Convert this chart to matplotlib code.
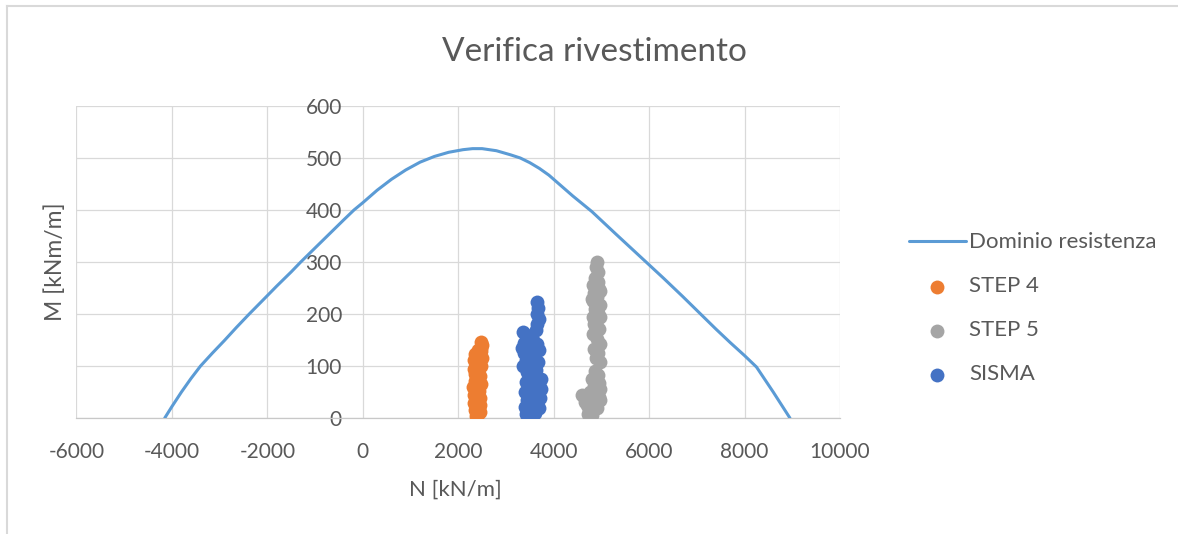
import matplotlib
matplotlib.use("Agg")
import matplotlib.pyplot as plt
from matplotlib.lines import Line2D

plt.rcParams['font.family'] = ['Lato', 'DejaVu Sans']
plt.rcParams['axes.unicode_minus'] = False

# Interaction domain (N, M)
dominio_N = [-4150, -4000, -3800, -3600, -3400, -3150, -2900, -2650, -2380, -2100,
             -1800, -1500, -1300, -1000, -700, -400, -185, 0, 300, 600,
             900, 1200, 1500, 1800, 2100, 2300, 2500, 2800, 3100, 3300,
             3500, 3700, 3900, 4100, 4400, 4800, 5300, 5900, 6300, 6700,
             7100, 7400, 7700, 8000, 8250, 8600, 8950]
dominio_M = [0, 22, 50, 76, 100, 125, 149, 174, 200, 226,
             254, 281, 300, 327, 354, 381, 400, 414, 438, 459,
             477, 492, 503, 511, 516, 518, 518, 514, 506, 500,
             491, 480, 467, 451, 427, 397, 354, 303, 269, 234,
             198, 171, 145, 120, 98, 50, 0]

# STEP 4 actions
step4_N = [2380, 2420, 2350, 2440, 2390, 2460, 2340, 2430, 2400, 2470,
           2360, 2450, 2410, 2330, 2470, 2380, 2320, 2440, 2360, 2480,
           2470, 2490, 2480, 2420, 2450, 2370, 2400, 2440, 2350, 2460,
           2320, 2490, 2310, 2410]
step4_M = [3, 8, 15, 22, 30, 38, 45, 52, 60, 65,
           72, 80, 88, 95, 100, 106, 112, 118, 124, 128,
           135, 141, 147, 70, 12, 58, 92, 110, 85, 25,
           28, 115, 60, 130]

# STEP 5 actions
step5_N = [4900, 4880, 4930, 4860, 4920, 4830, 4950, 4850, 4900, 4820,
           4960, 4870, 4930, 4830, 4900, 4850, 4950, 4830, 4900, 4960,
           4840, 4920, 4880, 4960, 4870, 4930, 4800, 4950, 4850, 4980,
           4760, 4900, 4650, 4700, 4960, 4820, 4700, 4900, 4750, 4720,
           4800, 4950, 4600, 4650, 4980, 4810, 4970]
step5_M = [300, 290, 280, 270, 262, 255, 248, 240, 232, 225,
           218, 210, 202, 195, 188, 180, 172, 162, 152, 142,
           133, 125, 115, 108, 90, 82, 75, 68, 62, 55,
           50, 46, 42, 38, 35, 30, 25, 20, 15, 8,
           5, 40, 45, 30, 245, 228, 195]

# Seismic actions
sisma_N = [3650, 3680, 3640, 3700, 3660, 3620, 3360, 3420, 3500, 3560,
           3380, 3650, 3450, 3700, 3370, 3550, 3420, 3680, 3360, 3500,
           3620, 3440, 3520, 3600, 3420, 3700, 3480, 3740, 3400, 3600,
           3720, 3450, 3550, 3400, 3700, 3480, 3600, 3420, 3530, 3650,
           3470, 3340, 3740]
sisma_M = [224, 212, 200, 190, 180, 170, 165, 160, 155, 150,
           145, 142, 138, 130, 125, 120, 112, 108, 100, 95,
           92, 88, 80, 76, 70, 66, 60, 55, 50, 45,
           38, 35, 28, 22, 20, 15, 10, 8, 4, 30,
           5, 135, 75]

x_ticks = [-6000, -4000, -2000, 0, 2000, 4000, 6000, 8000, 10000]
y_ticks = [0, 100, 200, 300, 400, 500, 600]

text_col = '#595959'
grid_col = '#d9d9d9'

fig = plt.figure(figsize=(11.78, 5.34), dpi=100)
ax = fig.add_axes([0.0649, 0.2172, 0.6482, 0.5843])

ax.plot(dominio_N, dominio_M, color='#5B9BD5', lw=2.2, label='Dominio resistenza', zorder=3,
        solid_joinstyle='round', solid_capstyle='round')
ms = 100
ax.scatter(step4_N, step4_M, s=ms, color='#ED7D31', label='STEP 4', zorder=4, linewidths=0)
ax.scatter(step5_N, step5_M, s=ms, color='#A5A5A5', label='STEP 5', zorder=4, linewidths=0)
ax.scatter(sisma_N, sisma_M, s=ms, color='#4472C4', label='SISMA', zorder=4, linewidths=0)

ax.set_xlim(x_ticks[0], x_ticks[-1])
ax.set_ylim(y_ticks[0], y_ticks[-1])
ax.set_xticks(x_ticks)
ax.set_yticks(y_ticks)
ax.grid(True, color=grid_col, lw=0.9)
ax.set_axisbelow(True)

for s in ['top', 'right']:
    ax.spines[s].set_visible(False)
ax.spines['left'].set_position(('data', 0))
ax.spines['left'].set_color('none')
ax.spines['bottom'].set_color('#c8c8c8')
ax.spines['bottom'].set_linewidth(0.9)

ax.tick_params(axis='both', length=0, labelsize=15, labelcolor=text_col)
ax.tick_params(axis='y', pad=15)
ax.tick_params(axis='x', pad=17)

fig.text(455 / 1178, 1 - 490 / 534, 'N [kN/m]', fontsize=16, color=text_col,
         ha='center', va='center')
fig.text(55.5 / 1178, 1 - 262 / 534, 'M [kNm/m]', fontsize=16.5, color=text_col,
         ha='center', va='center', rotation=90)

fig.text(594 / 1178, 1 - 52 / 534, 'Verifica rivestimento', fontsize=24,
         color=text_col, ha='center', va='center')

fig.legend(loc='center left', bbox_to_anchor=(909 / 1178, 1 - 308.5 / 534),
           frameon=False, fontsize=16, labelcolor=text_col,
           handlelength=2.55, handletextpad=0.15, labelspacing=1.08,
           borderpad=0, borderaxespad=0, scatterpoints=1)

# chart border
fig.add_artist(Line2D([7 / 1178, 1], [1 - 6 / 534, 1 - 6 / 534], color=grid_col, lw=1.5,
                      transform=fig.transFigure))
fig.add_artist(Line2D([7 / 1178, 7 / 1178], [0, 1 - 6 / 534], color=grid_col, lw=1.5,
                      transform=fig.transFigure))

fig.savefig('out.png', dpi=100)
